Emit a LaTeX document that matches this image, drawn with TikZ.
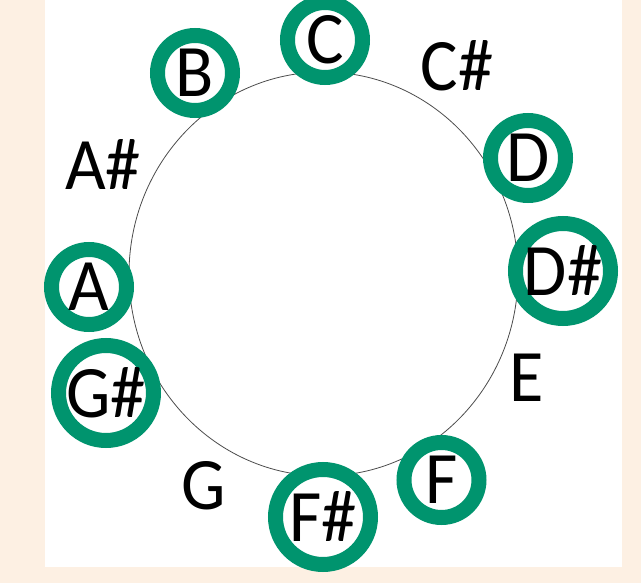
\documentclass[tikz,border=0pt]{standalone}
\usepackage{fontspec}
\setmainfont{Carlito}[FakeStretch=0.95]
\definecolor{peach}{RGB}{253,240,227}
\definecolor{ringgreen}{RGB}{0,148,110}
\begin{document}
\begin{tikzpicture}[x=1pt,y=-1pt,
  note/.style={font=\fontsize{74}{88}\selectfont,inner sep=0pt},
  ring/.style={note,circle,draw=ringgreen,line width=15pt,minimum size=75pt},
  bigring/.style={ring,minimum size=95pt}]
\fill[peach] (0,0) rectangle (641,583);
\fill[white] (45,0) rectangle (622,567);
\useasboundingbox (0,0) rectangle (641,583);
\draw[black!70,line width=0.8pt] (323.5,274) ellipse [x radius=194.5pt,y radius=202pt];

% notes round the circle, ringed ones in green
\node[ring] (c) at (325,40) {C};
\node[note] (cs) at (457,66) {C\#};
\node[ring] (d) at (528,158) {D};
\node[bigring] (ds) at (563,271) {D\#};
\node[note] (e) at (527,378) {E};
\node[ring] (f) at (441.5,480) {F};
\node[bigring] (fs) at (323,517) {F\#};
\node[note] (g) at (204,486) {G};
\node[bigring] (gs) at (106,393) {G\#};
\node[ring] (a) at (89,287) {A};
\node[note] (as) at (103,165) {A\#};
\node[ring] (b) at (195,73) {B};
\end{tikzpicture}
\end{document}
